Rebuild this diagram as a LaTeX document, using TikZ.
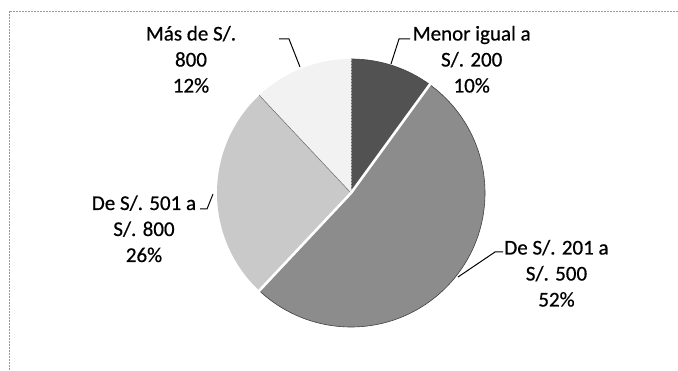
\documentclass[tikz,border=0pt]{standalone}
\usepackage{fontspec}
\setmainfont[FakeBold=0.6,AutoFakeBold=0.6]{Carlito}
\definecolor{sliceA}{gray}{0.32}
\definecolor{sliceB}{gray}{0.55}
\definecolor{sliceC}{gray}{0.79}
\definecolor{sliceD}{gray}{0.95}
\definecolor{frameC}{gray}{0.6}
\tikzset{
  lbl/.style={align=center,inner sep=0pt,font=\fontsize{21}{26}\selectfont\bfseries},
  leader/.style={draw=black,line width=1pt},
  sep/.style={draw=white,line width=2.6pt},
  rim/.style={draw=black!75,line width=0.6pt},
  framel/.style={draw=frameC,line width=0.6pt,dash pattern=on 2pt off 1pt}
}
\begin{document}
\begin{tikzpicture}[x=1pt,y=1pt]
\useasboundingbox (0,0) rectangle (678,370);
\fill[white] (0,0) rectangle (678,370);
% frame
\coordinate (fTL) at (9,359);
\coordinate (fTR) at (678,359);
\coordinate (fBL) at (9,0);
\draw[framel] (fBL) -- (fTL) -- (fTR);
% pie
\coordinate (C) at (351,177);
\def\R{134}
\fill[sliceA] (C) -- ++(90:\R) arc[start angle=90,end angle=54,radius=\R] -- cycle;
\fill[sliceB] (C) -- ++(54:\R) arc[start angle=54,end angle=-133.2,radius=\R] -- cycle;
\fill[sliceC] (C) -- ++(-133.2:\R) arc[start angle=-133.2,end angle=-226.8,radius=\R] -- cycle;
\fill[sliceD] (C) -- ++(133.2:\R) arc[start angle=133.2,end angle=90,radius=\R] -- cycle;
\draw[rim] (C) ++(90:\R) arc[start angle=90,end angle=-133.2,radius=\R];
\draw[draw=black!60,line width=0.5pt] (C) -- ++(133.2:\R);
\draw[draw=gray!70,line width=0.5pt,densely dotted] (C) -- ++(90:\R);
\draw[sep] (C) -- ++(54:\R+2);
\draw[sep] (C) -- ++(-133.2:\R+2);
% labels
\node[lbl] (lA) at (471.7,308.7) {Menor igual a\strut\\S/. 200\strut\\10\%\strut};
\node[lbl] (lB) at (556.5,94.7) {De S/. 201 a\strut\\S/. 500\strut\\52\%\strut};
\node[lbl] (lC) at (144,139.2) {De S/. 501 a\strut\\S/. 800\strut\\26\%\strut};
\node[lbl] (lD) at (191,308.7) {Más de S/.\strut\\800\strut\\12\%\strut};
% leaders
\coordinate (aS) at (410,331); \coordinate (aK) at (399,331); \coordinate (aE) at (391,306);
\coordinate (bS) at (503,118); \coordinate (bK) at (495,118); \coordinate (bE) at (458,93);
\coordinate (cS) at (200,161); \coordinate (cK) at (207,161); \coordinate (cE) at (213,176);
\coordinate (dS) at (279,331); \coordinate (dK) at (289,331); \coordinate (dE) at (300,303);
\draw[leader] (aS) -- (aK) -- (aE);
\draw[leader] (bS) -- (bK) -- (bE);
\draw[leader] (cS) -- (cK) -- (cE);
\draw[leader] (dS) -- (dK) -- (dE);
\end{tikzpicture}
\end{document}
